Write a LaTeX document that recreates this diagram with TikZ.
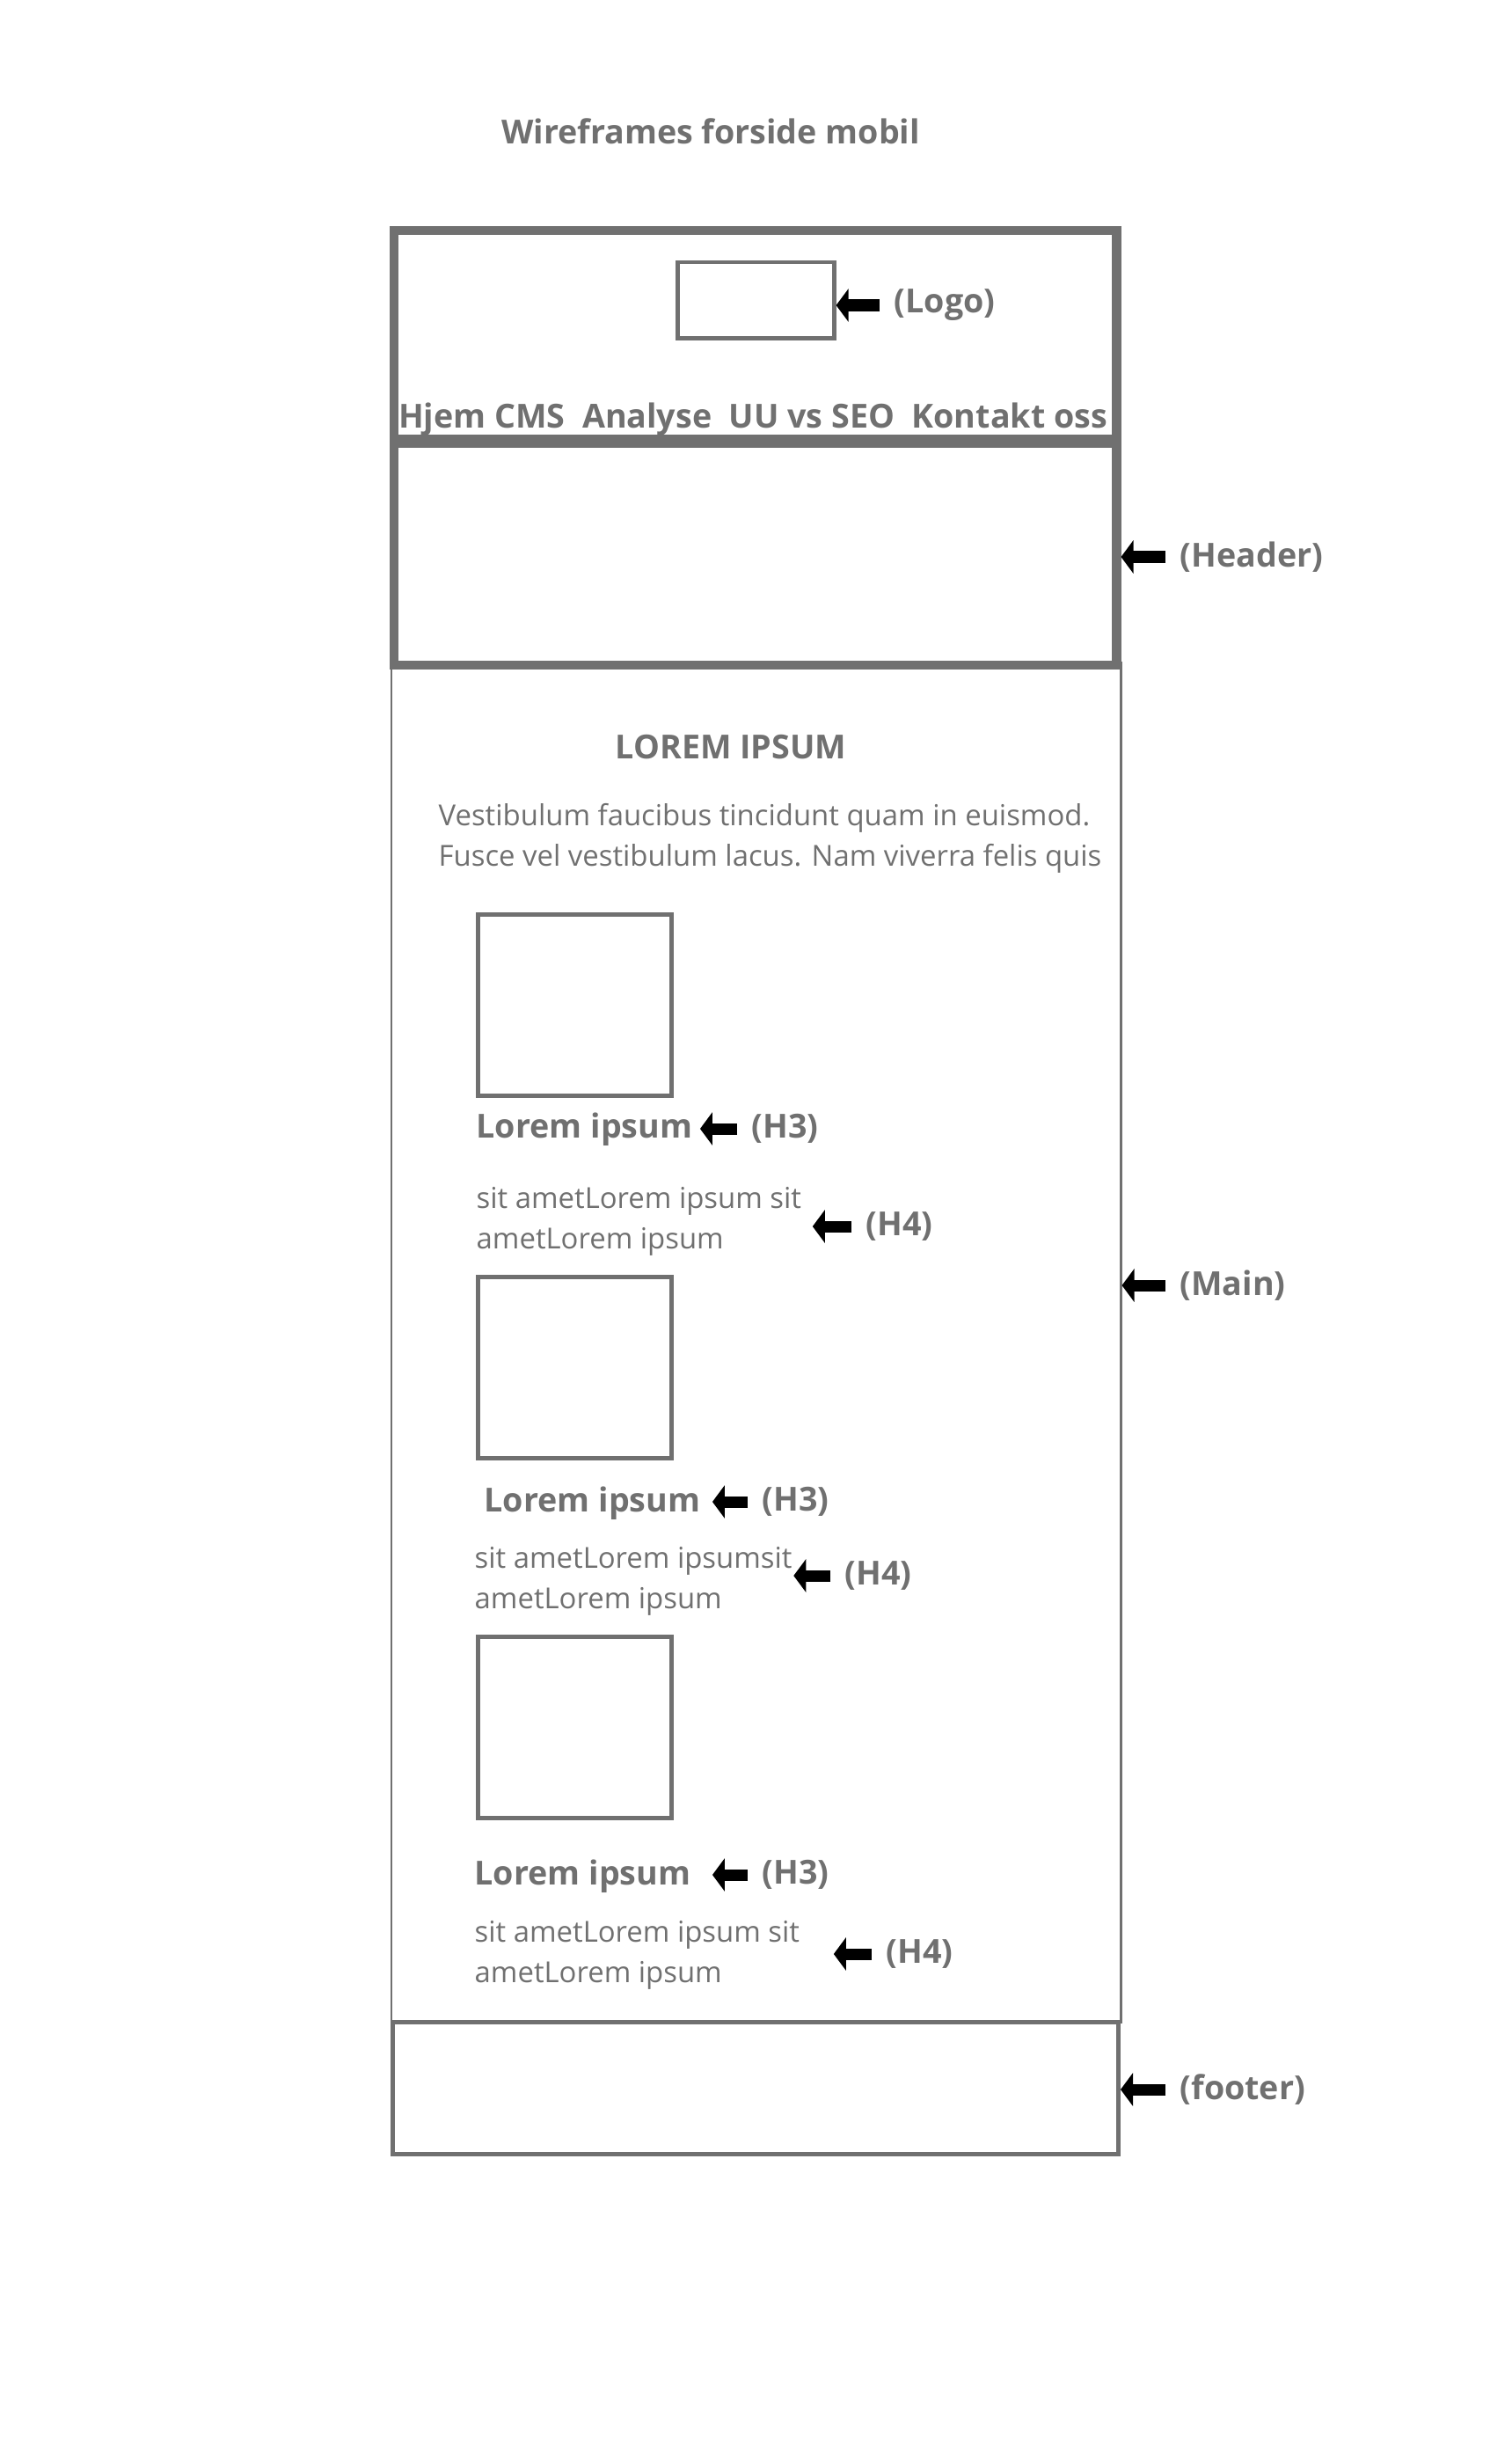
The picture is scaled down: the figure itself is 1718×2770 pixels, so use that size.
\documentclass[tikz,border=0pt]{standalone}
\usepackage{fontspec}
\setmainfont{Open Sans}
\usetikzlibrary{positioning,arrows.meta}
\definecolor{wfgray}{HTML}{707070}

\begin{document}
\begin{tikzpicture}[x=0.01cm, y=-0.01cm,
    frame/.style={draw=wfgray, line width=#1, anchor=north west, inner sep=0pt},
    frame/.default=0.045cm,
    heading/.style={text=wfgray, font=\bfseries\fontsize{10.7}{12.8}\selectfont, inner sep=0pt},
    tag/.style={heading, anchor=west},
    body/.style={text=wfgray, font=\fontsize{9.35}{13.1}\selectfont, inner sep=0pt, align=left, anchor=west},
    pointer/.style={-{Triangle[length=0.14cm, width=0.37cm]}, line width=0.13cm, shorten <=0.16cm}
]
    \useasboundingbox (0,0) rectangle (1718,2770);

    % Title
    \node[heading] (title) at (808,149) {Wireframes forside mobil};

    % Main (drawn first, header and footer lie on top)
    \node[frame=0.02cm, minimum width=8.29cm, minimum height=15.45cm] (main) at (444,752) {};

    % Header: nav bar with logo, hero below
    \node[frame=0.1cm, minimum width=8.21cm, minimum height=2.37cm] (navbar) at (443,257) {};
    \node[frame=0.1cm, minimum width=8.21cm, minimum height=2.52cm] (hero) at (443,499) {};
    \node[frame, minimum width=1.78cm, minimum height=0.86cm] (logo) at (768,296) {};
    \node[heading] (nav) at (856,477) {Hjem CMS\ \ Analyse\ \ UU vs SEO\ \ Kontakt oss};

    % Footer
    \node[frame, minimum width=8.25cm, minimum height=1.5cm] (footer) at (444,2296) {};

    % Intro
    \node[heading] (lorem) at (831,849) {LOREM IPSUM};
    \node[body] (intro) at (498,953) {Vestibulum faucibus tincidunt quam in euismod.\\Fusce vel vestibulum lacus. Nam viverra felis quis};

    % Cards: image, H3, H4
    \node[frame, minimum width=2.2cm, minimum height=2.06cm] (imga) at (541,1037) {};
    \node[frame, minimum width=2.2cm, minimum height=2.06cm] (imgb) at (541,1449) {};
    \node[frame, minimum width=2.2cm, minimum height=2.06cm] (imgc) at (541,1858) {};

    \node[tag] (titlea) at (541,1284) {Lorem ipsum};
    \node[tag] (titleb) at (550,1709) {Lorem ipsum};
    \node[tag] (titlec) at (539,2133) {Lorem ipsum};

    \node[body] (texta) at (541,1388) {sit ametLorem ipsum sit\\ametLorem ipsum};
    \node[body] (textb) at (539,1797) {sit ametLorem ipsumsit\\ametLorem ipsum};
    \node[body] (textc) at (539,2222) {sit ametLorem ipsum sit\\ametLorem ipsum};

    % Labels
    \node[tag] (lbllogo) at (1016,347) {(Logo)};
    \node[tag] (lblheader) at (1341,633) {(Header)};
    \node[tag] (lblmain) at (1341,1461) {(Main)};
    \node[tag] (lblfooter) at (1341,2375) {(footer)};

    \node[tag] (lblh3a) at (854,1283) {(H3)};
    \node[tag] (lblh4a) at (984,1394) {(H4)};
    \node[tag] (lblh3b) at (866,1707) {(H3)};
    \node[tag] (lblh4b) at (960,1791) {(H4)};
    \node[tag] (lblh3c) at (866,2131) {(H3)};
    \node[tag] (lblh4c) at (1007,2221) {(H4)};

    % Pointers
    \draw[pointer] (lbllogo.west) -- (lbllogo.west -| logo.east);
    \draw[pointer] (lblheader.west) -- (lblheader.west -| hero.east);
    \draw[pointer] (lblmain.west) -- (lblmain.west -| main.east);
    \draw[pointer] (lblfooter.west) -- (lblfooter.west -| footer.east);

    \draw[pointer, shorten >=0.08cm] (lblh3a.west) -- (lblh3a.west -| titlea.east);
    \draw[pointer, shorten >=0.12cm] (lblh4a.west) -- (lblh4a.west -| texta.east);
    \draw[pointer, shorten >=0.13cm] (lblh3b.west) -- (lblh3b.west -| titleb.east);
    \draw[pointer, shorten >=0.01cm] (lblh4b.west) -- (lblh4b.west -| textb.east);
    \draw[pointer, shorten >=0.24cm] (lblh3c.west) -- (lblh3c.west -| titlec.east);
    \draw[pointer, shorten >=0.38cm] (lblh4c.west) -- (lblh4c.west -| textc.east);
\end{tikzpicture}
\end{document}
